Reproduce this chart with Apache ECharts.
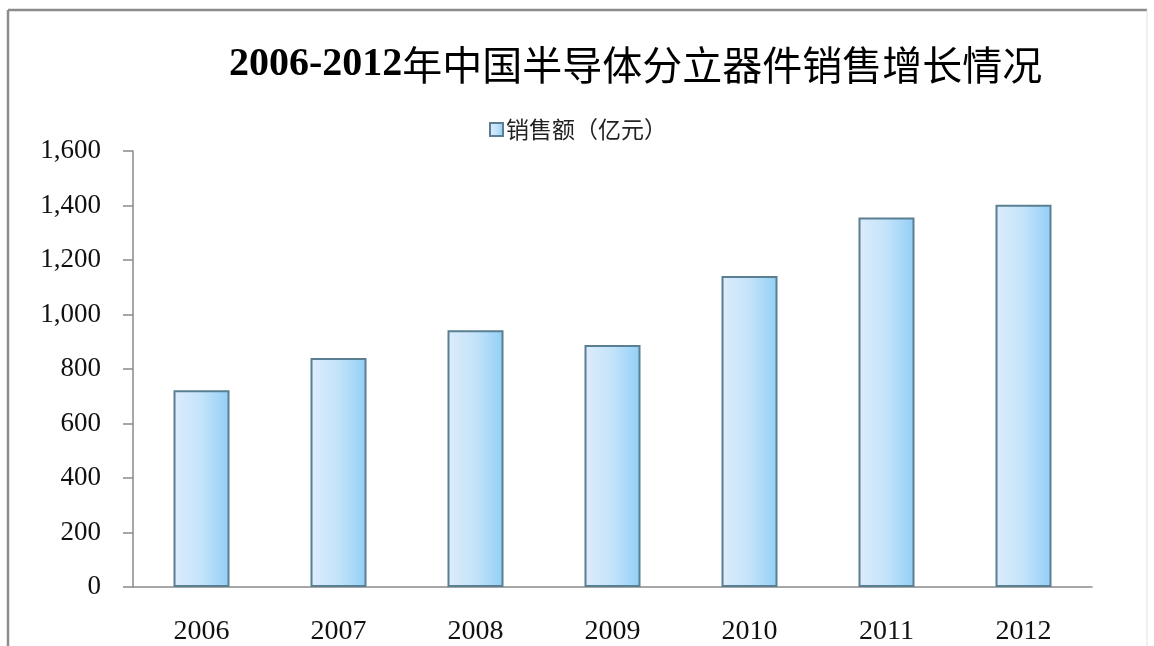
<!DOCTYPE html>
<html>
<head>
<meta charset="utf-8">
<script src="https://cdn.jsdelivr.net/npm/echarts@6/dist/echarts.min.js"></script>
<style>
  html, body { margin: 0; padding: 0; background: #fff; }
  #chart { width: 1154px; height: 646px; }
</style>
</head>
<body>
<div id="chart"></div>
<script>
// 年份与销售额（亿元）
const years = ['2006', '2007', '2008', '2009', '2010', '2011', '2012'];
const sales = [722, 840, 942, 888, 1141, 1356, 1403];
const yMin = 0;
const yMax = 1600;
const yStep = 200;

const serif = '"Liberation Serif", "DejaVu Serif", serif';
const cjk = '"Noto Sans CJK SC", sans-serif';

// 柱体：左浅右深的水平渐变 + 灰蓝描边
const barStyle = {
  color: new echarts.graphic.LinearGradient(0, 0, 1, 0, [
    { offset: 0, color: '#ddecfc' },
    { offset: 0.5, color: '#c3e3fa' },
    { offset: 1, color: '#92cff6' }
  ]),
  borderColor: '#5b7f92',
  borderWidth: 2
};

const chart = echarts.init(document.getElementById('chart'), null, { renderer: 'canvas' });

chart.setOption({
  backgroundColor: '#ffffff',
  animation: false,
  title: {
    text: '{a|2006-2012}{b|年中国半导体分立器件销售增长情况}',
    left: 224,
    top: 40,
    textStyle: {
      rich: {
        a: { fontFamily: serif, fontWeight: 'bold', fontSize: 40, color: '#000' },
        b: { fontFamily: cjk, fontWeight: 'normal', fontSize: 40, color: '#000' }
      }
    }
  },
  legend: {
    left: 484,
    top: 113,
    itemWidth: 13,
    itemHeight: 13,
    itemGap: 6,
    icon: 'rect',
    textStyle: { fontFamily: cjk, fontSize: 23, color: '#222', padding: [0, 0, 0, -2] },
    data: ['销售额（亿元）']
  },
  grid: {
    left: 133,
    right: 62,
    top: 151,
    bottom: 57,
    containLabel: false
  },
  xAxis: {
    type: 'category',
    data: years,
    axisLine: { show: true, lineStyle: { color: '#8a8a8a', width: 1.5 } },
    axisTick: { show: false },
    axisLabel: {
      fontFamily: serif,
      fontSize: 28,
      color: '#111',
      margin: 31
    }
  },
  yAxis: {
    type: 'value',
    min: yMin,
    max: yMax,
    interval: yStep,
    splitLine: { show: false },
    axisLine: { show: true, lineStyle: { color: '#8a8a8a', width: 1.5 } },
    axisTick: { show: true, inside: false, length: 10, lineStyle: { color: '#8a8a8a', width: 1.5 } },
    axisLabel: {
      fontFamily: serif,
      fontSize: 27,
      color: '#111',
      margin: 32,
      formatter: function (v) { return v.toLocaleString('en-US'); }
    }
  },
  series: [{
    name: '销售额（亿元）',
    type: 'bar',
    data: sales,
    barWidth: 56,
    itemStyle: barStyle
  }],
  graphic: [
    // 图表外框
    { type: 'line', shape: { x1: 8, y1: 10, x2: 1147, y2: 10 }, style: { stroke: '#8c8c8c', lineWidth: 2.5 } },
    { type: 'line', shape: { x1: 8, y1: 10, x2: 8, y2: 646 }, style: { stroke: '#8c8c8c', lineWidth: 2.5 } },
    { type: 'line', shape: { x1: 1147, y1: 10, x2: 1147, y2: 646 }, style: { stroke: '#e2e2e2', lineWidth: 1 } }
  ]
});
</script>
</body>
</html>
